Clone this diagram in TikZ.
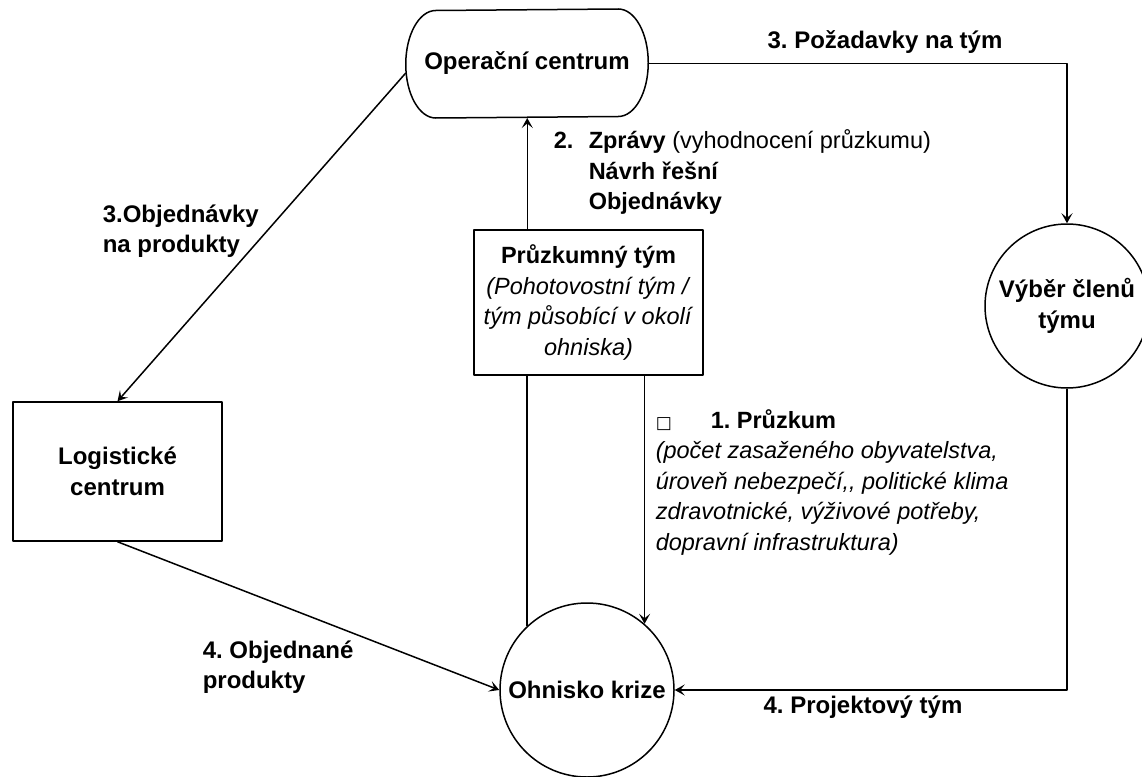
\documentclass[tikz,border=0pt]{standalone}
\usepackage{fontspec}
\setmainfont{Liberation Sans}
\newfontfamily\symfont{DejaVu Sans}
\usetikzlibrary{arrows.meta,calc}
\frenchspacing
\begin{document}
\begin{tikzpicture}[x=1pt,y=-1pt, line width=1.5pt, line join=round,
  every node/.style={font=\fontsize{23.5}{30.5}\selectfont, inner sep=0pt},
  arr/.style={-{Stealth[length=10pt,width=11pt,inset=4.5pt]}},
  bnode/.style={font=\fontsize{24}{30.5}\selectfont\bfseries, align=center},
  lbl/.style={font=\fontsize{24}{30.5}\selectfont\bfseries, align=left}]
\useasboundingbox (0,0) rectangle (1142,776);

% nodes
\node[bnode, minimum width=241pt, minimum height=107.5pt] (oc) at (527,63.5) {Operační centrum};
\draw ([xshift=-30pt]oc.north east)
  arc[start angle=90,end angle=-90,x radius=30pt,y radius=53.75pt]
  -- ([xshift=30pt]oc.south west)
  arc[start angle=270,end angle=90,x radius=30pt,y radius=53.75pt] -- cycle;

\node[draw, minimum width=229pt, minimum height=145pt, align=center] (pt) at (588.5,302.5)
  {\textbf{Průzkumný tým}\\\textit{(Pohotovostní tým /}\\\textit{tým působící v okolí}\\\textit{ohniska)}};

\node[draw, circle, minimum size=164pt, bnode] (vc) at (1067,306) {Výběr členů\\týmu};
\node[draw, circle, minimum size=174pt, bnode] (ok) at (587,690) {Ohnisko krize};
\node[draw, minimum width=209pt, minimum height=139pt, bnode] (lc) at (117.5,471.5) {Logistické\\centrum};

% connectors
\draw[arr] ([yshift=-9.5pt]oc.west) -- (lc.north);
\draw[arr] (oc.east) -| (vc.north);
\draw[arr] ([xshift=54pt]pt.north west) -- ([xshift=54pt]pt.north west |- oc.south);
\draw (ok.133.6 |- pt.south) -- (ok.133.6);
\draw[arr] (ok.49.9 |- pt.south) -- (ok.49.9);
\draw[arr] (vc.south) |- (ok.east);
\draw[arr] (lc.south) -- (ok.west);

% labels
\node[lbl] (l3a) at (885,42) {3. Požadavky na tým};
\node[anchor=west, align=left] (l2) at (553,172)
  {\makebox[35pt][l]{\textbf{2.}}\textbf{Zprávy} (vyhodnocení průzkumu)\\
   \hspace*{35pt}\textbf{Návrh řešní}\\
   \hspace*{35pt}\textbf{Objednávky}};
\node[anchor=west, align=left] (l1) at (655,482)
  {\makebox[55pt][l]{\symfont\fontsize{17}{17}\selectfont □}\textbf{1. Průzkum}\\
   \textit{(počet zasaženého obyvatelstva,}\\
   \textit{úroveň nebezpečí,{}, politické klima}\\
   \textit{zdravotnické, výživové potřeby,}\\
   \textit{dopravní infrastruktura)}};
\node[lbl, anchor=west] (l3b) at (102,231) {3.Objednávky\\na produkty};
\node[lbl, anchor=west] (l4a) at (202,667) {4. Objednané\\produkty};
\node[lbl] (l4b) at (863,707) {4. Projektový tým};
\end{tikzpicture}
\end{document}
